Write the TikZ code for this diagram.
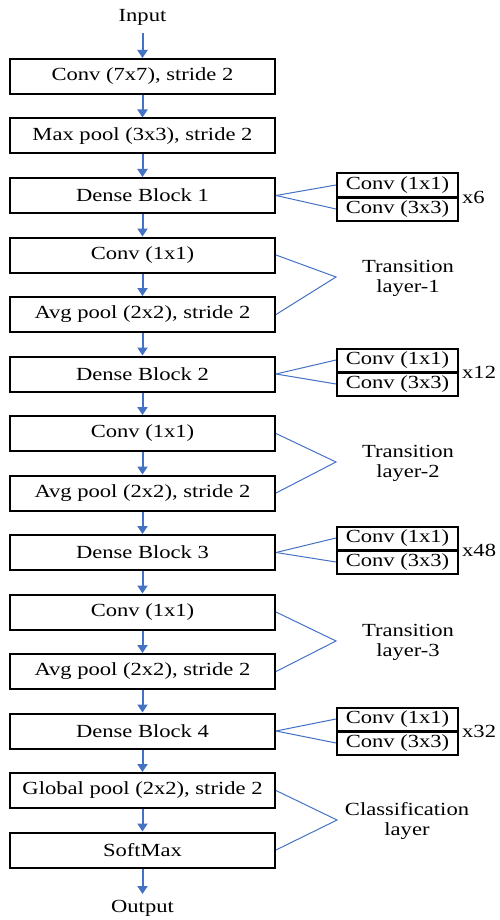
\documentclass[tikz,border=0pt]{standalone}
\usepackage{fontspec}
\setmainfont{Liberation Serif}[FakeStretch=1.22]
\usetikzlibrary{arrows.meta}
\definecolor{arrblue}{RGB}{68,114,196}
\begin{document}
\begin{tikzpicture}[x=1pt,y=-1pt,
  mainbox/.style={draw=black,line width=2pt,minimum width=265pt,minimum height=35pt,inner sep=0pt,
    font=\fontsize{18.5}{20}\selectfont},
  subbox/.style={draw=black,line width=2pt,minimum width=121pt,minimum height=23pt,inner sep=0pt,
    font=\fontsize{18.5}{20}\selectfont},
  lbl/.style={font=\fontsize{18.5}{20}\selectfont,inner sep=0pt,align=center},
  flow/.style={draw=arrblue,line width=2pt,-{Triangle[width=10pt,length=8pt]}},
  link/.style={draw=arrblue,line width=1pt}]
\useasboundingbox (0,0) rectangle (499,920);

\node[lbl] (in) at (142.5,17) {Input};
\node[mainbox] (b1) at (142.5,76.5) {Conv (7x7), stride 2};
\node[mainbox] (b2) at (142.5,136) {Max pool (3x3), stride 2};
\node[mainbox] (b3) at (142.5,195.5) {Dense Block 1};
\node[mainbox] (b4) at (142.5,255) {Conv (1x1)};
\node[mainbox] (b5) at (142.5,314.5) {Avg pool (2x2), stride 2};
\node[mainbox] (b6) at (142.5,374) {Dense Block 2};
\node[mainbox] (b7) at (142.5,433.5) {Conv (1x1)};
\node[mainbox] (b8) at (142.5,493) {Avg pool (2x2), stride 2};
\node[mainbox] (b9) at (142.5,552.5) {Dense Block 3};
\node[mainbox] (b10) at (142.5,612) {Conv (1x1)};
\node[mainbox] (b11) at (142.5,671.5) {Avg pool (2x2), stride 2};
\node[mainbox] (b12) at (142.5,731) {Dense Block 4};
\node[mainbox] (b13) at (142.5,790.5) {Global pool (2x2), stride 2};
\node[mainbox] (b14) at (142.5,850) {SoftMax};
\node[lbl] (out) at (142.5,908) {Output};

\draw[flow] (in.south) ++(0,8) coordinate (ins) -- (b1.north);
\draw[flow] (b1) -- (b2);
\draw[flow] (b2) -- (b3);
\draw[flow] (b3) -- (b4);
\draw[flow] (b4) -- (b5);
\draw[flow] (b5) -- (b6);
\draw[flow] (b6) -- (b7);
\draw[flow] (b7) -- (b8);
\draw[flow] (b8) -- (b9);
\draw[flow] (b9) -- (b10);
\draw[flow] (b10) -- (b11);
\draw[flow] (b11) -- (b12);
\draw[flow] (b12) -- (b13);
\draw[flow] (b13) -- (b14);
\coordinate (outn) at (142.5,894);
\draw[flow] (b14.south) -- (outn);

% Dense block side stacks
\foreach \b/\n/\yy in {b3/6/197, b6/12/372, b9/48/550, b12/32/731}{
  \node[subbox] (\b u) at (397.5,\yy-12) {Conv (1x1)};
  \node[subbox] (\b l) at (397.5,\yy+12) {Conv (3x3)};
  \draw[link] (\b.east) -- (\b u.west);
  \draw[link] (\b.east) -- (\b l.west);
  \node[lbl,anchor=west] (\b x) at (462,\yy) {x\n};
}

% Transition layers
\coordinate (t1) at (336,277);
\draw[link] (b4.east) -- (t1) -- (b5.east);
\node[lbl] (t1l) at (408,278) {Transition\\layer-1};
\coordinate (t2) at (336,462);
\draw[link] (b7.east) -- (t2) -- (b8.east);
\node[lbl] (t2l) at (408,463) {Transition\\layer-2};
\coordinate (t3) at (336,641);
\draw[link] (b10.east) -- (t3) -- (b11.east);
\node[lbl] (t3l) at (408,642) {Transition\\layer-3};
\coordinate (c1) at (337,820);
\draw[link] (b13.east) -- (c1) -- (b14.east);
\node[lbl] (c1l) at (407,821) {Classification\\layer};
\end{tikzpicture}
\end{document}
